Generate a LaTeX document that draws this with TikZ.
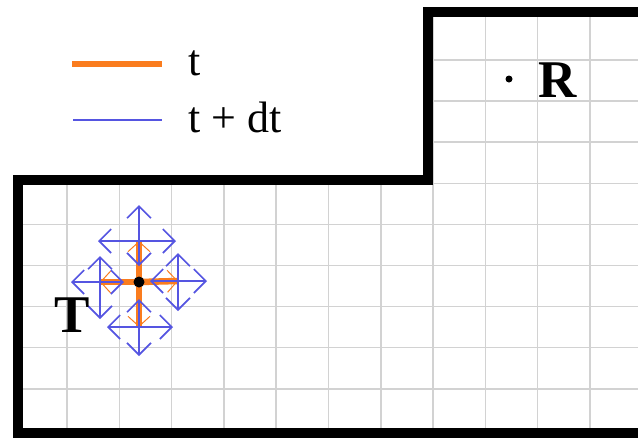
\documentclass[tikz,border=0pt]{standalone}
\usepackage{fontspec}
\setmainfont{Liberation Serif}
\usepackage{xcolor}
\usetikzlibrary{arrows.meta,calc}

\definecolor{floworange}{RGB}{250,124,30}
\definecolor{flowblue}{RGB}{85,85,225}
\definecolor{gridgray}{RGB}{210,210,210}

\begin{document}
\begin{tikzpicture}[x=1pt,y=-1pt,
  wall/.style={line width=10pt,black},
  gridln/.style={gridgray,line width=1.5pt},
  oldflow/.style={floworange,line width=6.5pt},
  oldtip/.style={floworange,line width=1pt,-{Straight Barb[length=10pt,width=22pt]}},
  newflow/.style={flowblue,line width=1.6pt,-{Straight Barb[length=12pt,width=24pt]}},
  dot/.style={circle,fill=black,inner sep=0pt,minimum size=#1},
  lbl/.style={inner sep=0pt,font=\fontsize{53}{53}\selectfont\bfseries},
  legtxt/.style={inner sep=0pt,anchor=base west,font=\fontsize{44}{44}\selectfont}]
 \clip (0,0) rectangle (638,437);
 % grid, only inside the room
 \begin{scope}
  \clip (18,433) -- (18,180) -- (428,180) -- (428,12) -- (660,12) -- (660,433) -- cycle;
  \foreach \k in {0,...,10} \draw[gridln] (67+52.3*\k,0) -- (67+52.3*\k,437);
  \foreach \k in {0,...,8} \draw[gridln] (0,60+41.1*\k) -- (638,60+41.1*\k);
 \end{scope}
 \draw[wall] (660,433) -- (18,433) -- (18,180) -- (428,180) -- (428,12) -- (660,12);
 % legend
 \coordinate (oa) at (72,64); \coordinate (ob) at (162,64);
 \coordinate (ba) at (73,120); \coordinate (bb) at (162,120);
 \draw[floworange,line width=6.5pt] (oa) -- (ob);
 \draw[flowblue,line width=2.2pt] (ba) -- (bb);
 \node[legtxt] (lt) at (188,75) {t};
 \node[legtxt] (ldt) at (188,132) {t + dt};
 % flow at time t
 \coordinate (c) at (139,282);
 \coordinate (up) at (139,241);
 \coordinate (dn) at (139,327);
 \coordinate (lf) at (100,282);
 \coordinate (rt) at (178,281);
 \foreach \e in {up,dn,lf,rt} {
  \draw[oldflow] (c) -- (\e);
  \draw[oldtip] ($(c)!0.6!(\e)$) -- (\e);
 }
 % flow at time t+dt
 \foreach \p/\upl/\dnl/\lfl/\rtl in {up/36/25/41/37,rt/28/30/28/29,lf/26/37/29/24,dn/28/29/32/34} {
  \path (\p) +(0,-\upl) coordinate (\p-u) +(0,\dnl) coordinate (\p-d)
             +(-\lfl,0) coordinate (\p-l) +(\rtl,0) coordinate (\p-r);
  \foreach \e in {u,d,l,r} \draw[newflow] (\p) -- (\p-\e);
 }
 \node[dot=11pt] (cdot) at (c) {};
 \node[lbl] (T) at (72,315) {T};
 \node[dot=7pt] (rdot) at (509,79) {};
 \node[lbl] (R) at (558,80) {R};
\end{tikzpicture}
\end{document}
